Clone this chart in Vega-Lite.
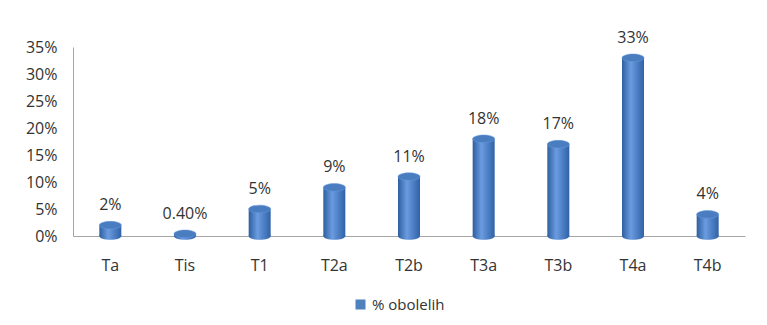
{
  "$schema": "https://vega.github.io/schema/vega-lite/v6.json",
  "width": 672,
  "height": 189,
  "autosize": {"type": "none"},
  "padding": {"left": 73, "top": 47, "right": 22, "bottom": 89},
  "background": "white",
  "config": {
    "view": {"stroke": null},
    "font": "Open Sans",
    "axis": {"labelFont": "Open Sans", "labelFontSize": 16, "labelColor": "#333333", "grid": false, "ticks": false, "domainColor": "#a6a6a6", "title": null}
  },
  "data": {
    "values": [
      {"stage": "Ta", "value": 0.02, "label": "2%", "series": "% obolelih"},
      {"stage": "Tis", "value": 0.004, "label": "0.40%", "series": "% obolelih"},
      {"stage": "T1", "value": 0.05, "label": "5%", "series": "% obolelih"},
      {"stage": "T2a", "value": 0.09, "label": "9%", "series": "% obolelih"},
      {"stage": "T2b", "value": 0.11, "label": "11%", "series": "% obolelih"},
      {"stage": "T3a", "value": 0.18, "label": "18%", "series": "% obolelih"},
      {"stage": "T3b", "value": 0.17, "label": "17%", "series": "% obolelih"},
      {"stage": "T4a", "value": 0.33, "label": "33%", "series": "% obolelih"},
      {"stage": "T4b", "value": 0.04, "label": "4%", "series": "% obolelih"}
    ]
  },
  "encoding": {
    "x": {
      "field": "stage", "type": "nominal", "sort": null,
      "scale": {"paddingInner": 0.7, "paddingOuter": 0.35},
      "axis": {"labelAngle": 0, "labelPadding": 21, "domainColor": "#a6a6a6"}
    },
    "y": {
      "field": "value", "type": "quantitative",
      "scale": {"domain": [0, 0.35]},
      "axis": {"format": ".0%", "values": [0, 0.05, 0.1, 0.15, 0.2, 0.25, 0.3, 0.35], "labelPadding": 16}
    }
  },
  "layer": [
    {
      "mark": {
        "type": "bar",
        "width": 22,
        "fill": {
          "gradient": "linear", "x1": 0, "x2": 1, "y1": 0, "y2": 0,
          "stops": [
            {"offset": 0, "color": "#2d5f9f"},
            {"offset": 0.4, "color": "#6b9be0"},
            {"offset": 1, "color": "#2f62a8"}
          ]
        }
      },
      "encoding": {
        "color": {"field": "series", "type": "nominal", "scale": {"range": ["#4f81bd"]},
          "legend": {"title": null, "orient": "none", "legendX": 280, "legendY": 250, "symbolType": "square", "symbolSize": 100, "labelFontSize": 15, "labelColor": "#333333", "labelFont": "Open Sans"}}
      }
    },
    {
      "mark": {"type": "point", "shape": "M -1 0 A 1 0.35 0 1 0 1 0 A 1 0.35 0 1 0 -1 0 Z", "size": 484, "filled": true, "fill": {
          "gradient": "linear", "x1": 0, "x2": 1, "y1": 0, "y2": 0,
          "stops": [
            {"offset": 0, "color": "#2d5f9f"},
            {"offset": 0.4, "color": "#6b9be0"},
            {"offset": 1, "color": "#2f62a8"}
          ]
        }, "opacity": 1},
      "encoding": {"y": {"datum": 0}}
    },
    {
      "mark": {"type": "point", "shape": "M -1 0 A 1 0.35 0 1 0 1 0 A 1 0.35 0 1 0 -1 0 Z", "size": 484, "filled": true, "fill": "#4a7dc0", "stroke": "#6b9be0", "strokeWidth": 0.5, "opacity": 1}
    },
    {
      "mark": {"type": "text", "dy": -20, "fontSize": 16, "font": "Open Sans", "color": "#333333"},
      "encoding": {"text": {"field": "label"}}
    }
  ]
}
